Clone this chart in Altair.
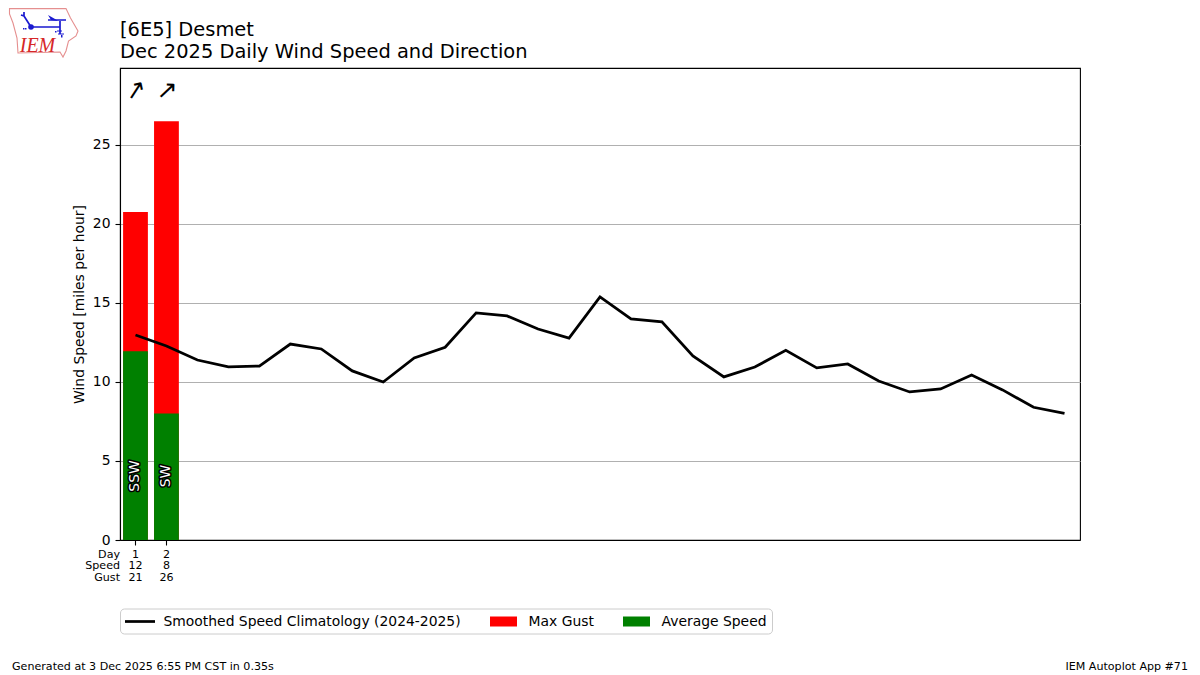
import base64
import altair as alt
import pandas as pd

FONT = "DejaVu Sans"

days = list(range(1, 32))
climatology = [12.97, 12.28, 11.39, 10.95, 11.01, 12.40, 12.09, 10.70, 10.00, 11.52, 12.20,
               14.37, 14.18, 13.35, 12.78, 15.38, 13.99, 13.80, 11.65, 10.32, 10.95, 12.00,
               10.89, 11.14, 10.06, 9.37, 9.56, 10.44, 9.50, 8.40, 8.02]
obs_days = [1, 2]
avg_speed = [11.95, 8.0]
max_gust = [20.75, 26.5]
dir_labels = ["SSW", "SW"]
arrow_angles = [33, 47]
speed_labels = ["12", "8"]
gust_labels = ["21", "26"]
row_names = ["Day", "Speed", "Gust"]
series_names = ["Smoothed Speed Climatology (2024-2025)", "Max Gust", "Average Speed"]
series_colors = ["black", "red", "green"]
series_shapes = ["M-1,-0.17H2.75V0.17H-1Z", "M-1,-0.625H2.375V0.625H-1Z", "M-1,-0.625H2.375V0.625H-1Z"]
title_lines = ["[6E5] Desmet", "Dec 2025 Daily Wind Speed and Direction"]
footer_left = "Generated at 3 Dec 2025 6:55 PM CST in 0.35s"
footer_right = "IEM Autoplot App #71"
logo_text = "IEM"

logo_svg = """<svg xmlns='http://www.w3.org/2000/svg' viewBox='0 0 90 60' width='90' height='60'>
<path d='M9.5,8.6 L66,8.6 L70.5,18 L78,31 L76,36 L68.5,41 L66,51 L63,57 L60,52 L18,53 L17,38 L13,23 L9.5,14 Z' fill='white' stroke='#e58f8f' stroke-width='1.1'/>
<g stroke='#1a1ad0' fill='none' stroke-width='1.7'>
<path d='M31,27 H60 M60,21 V34 M31,27 L24,16 L21,15 M24,16 L24,12 M48,20 H66'/>
<path d='M57,31 H62 M58,34 H64' stroke-width='1'/>
</g>
<path d='M48,15 L55,19 L58,21 L51,20 Z' fill='#1a1ad0'/>
<circle cx='31' cy='27' r='2.8' fill='#1a1ad0'/>
<path d='M23,28 h1.5 v1.5 h-1.5z M25,28 h1.5 v1.5 h-1.5z M55,31 h1.5 v1.5 h-1.5z M61,35 h1.5 v2.5 h-1.5z' fill='#1a1ad0'/>
</svg>"""
logo_uri = "data:image/svg+xml;base64," + base64.b64encode(logo_svg.encode()).decode()

clim_df = pd.DataFrame({"day": days, "speed": climatology})
obs_df = pd.DataFrame({
    "day": obs_days, "avg": avg_speed, "gust": max_gust, "dir": dir_labels,
    "angle": arrow_angles, "spd": speed_labels, "gst": gust_labels,
    "dirpos": [4.05, 4.05], "arrowpos": [28.4, 28.4],
})
legend_df = pd.DataFrame({"series": series_names, "day": [None] * 3, "speed": [None] * 3})

x_scale = alt.Scale(domain=[0.5, 31.5], nice=False, zero=False, padding=0)
y_scale = alt.Scale(domain=[0, 29.87], nice=False)
X = alt.X("day:Q", scale=x_scale,
          axis=alt.Axis(values=obs_days, labels=False, title=None, grid=False, zindex=1,
                        domainColor="black", domainWidth=1.1, tickColor="black", tickWidth=1.1, tickSize=5))
Y_AXIS = alt.Axis(values=[0, 5, 10, 15, 20, 25], title="Wind Speed [miles per hour]", grid=True,
                  gridColor="#b0b0b0", gridWidth=1.1, domainColor="black", domainWidth=1.1,
                  tickColor="black", tickWidth=1.1, tickSize=5, labelFont=FONT, labelFontSize=13.9,
                  labelColor="black", labelPadding=5, titleFont=FONT, titleFontSize=13.9,
                  titleFontWeight="normal", titleColor="black", titlePadding=6)

base_obs = alt.Chart(obs_df)
gust = base_obs.mark_bar(width=24.8, color=series_colors[1]).encode(
    x=X, y=alt.Y("gust:Q", scale=y_scale, axis=Y_AXIS, stack=None))
avg = base_obs.mark_bar(width=24.8, color=series_colors[2]).encode(
    x=alt.X("day:Q", scale=x_scale), y=alt.Y("avg:Q", scale=y_scale, stack=None))
line = alt.Chart(clim_df).mark_line(color=series_colors[0], strokeWidth=2.78).encode(
    x=alt.X("day:Q", scale=x_scale), y=alt.Y("speed:Q", scale=y_scale))
legend_layer = alt.Chart(legend_df).mark_point(filled=True, opacity=1).encode(
    x=alt.X("day:Q", scale=x_scale), y=alt.Y("speed:Q", scale=y_scale),
    color=alt.Color("series:N", scale=alt.Scale(domain=series_names, range=series_colors),
                    legend=alt.Legend(orient="none", legendX=0, legendY=540.5, direction="horizontal",
                                      columns=3, title=None, gridAlign="none", symbolSize=256,
                                      symbolStrokeWidth=0, labelFont=FONT, labelFontSize=13.9,
                                      labelColor="black", labelLimit=400, columnPadding=29,
                                      labelOffset=22.5, fillColor="white", strokeColor="#cccccc",
                                      cornerRadius=4, padding=5, symbolOpacity=1)),
    shape=alt.Shape("series:N", scale=alt.Scale(domain=series_names, range=series_shapes)),
)

dir_stroke = base_obs.mark_text(angle=270, font=FONT, fontSize=13.9, stroke="black", strokeWidth=3,
                                strokeJoin="round", fill="black", align="center", baseline="middle").encode(
    x=alt.X("day:Q", scale=x_scale), y=alt.Y("dirpos:Q", scale=y_scale), text="dir:N")
dir_fill = base_obs.mark_text(angle=270, font=FONT, fontSize=13.9, fill="white", align="center",
                              baseline="middle").encode(
    x=alt.X("day:Q", scale=x_scale), y=alt.Y("dirpos:Q", scale=y_scale), text="dir:N")
arrows = base_obs.mark_text(text="\u2191", font=FONT, fontSize=25, color="black", align="center",
                            baseline="middle").encode(
    x=alt.X("day:Q", scale=x_scale), y=alt.Y("arrowpos:Q", scale=y_scale),
    angle=alt.Angle("angle:Q", scale=None))


def table_row(field, ypix):
    return base_obs.mark_text(font=FONT, fontSize=11.1, color="black", align="center",
                              baseline="middle").encode(
        x=alt.X("day:Q", scale=x_scale), y=alt.value(ypix), text=field)


row_day = table_row("day:Q", 486.5)
row_speed = table_row("spd:N", 498)
row_gust = table_row("gst:N", 509.5)
row_heads = alt.Chart(pd.DataFrame({"name": row_names, "py": [486.5, 498, 509.5]})).mark_text(
    font=FONT, fontSize=11.1, color="black", align="right", baseline="middle").encode(
    x=alt.value(0), y=alt.Y("py:Q", scale=None), text="name:N")


def note(text, px, py, align, size=11.1, baseline="middle", **kw):
    return alt.Chart(pd.DataFrame({"t": [text]})).mark_text(
        font=kw.pop("font", FONT), fontSize=size, align=align, baseline=baseline, **kw).encode(
        x=alt.value(px), y=alt.value(py), text="t:N")


title_1 = note(title_lines[0], 0, -32, "left", size=19.45, baseline="alphabetic", color="black")
title_2 = note(title_lines[1], 0, -10, "left", size=19.45, baseline="alphabetic", color="black")
foot_l = note(footer_left, -108, 599, "left", color="black")
foot_r = note(footer_right, 1068, 599, "right", color="black")
logo = alt.Chart(pd.DataFrame({"u": [logo_uri]})).mark_image(width=90, height=60, align="left", baseline="top").encode(
    x=alt.value(-120), y=alt.value(-68), url="u:N")
logo_label = note(logo_text, -82.5, -22, "center", size=20, font="Liberation Serif", fontStyle="italic", color="#d62728")

chart = alt.layer(
    gust, avg, line, legend_layer, dir_stroke, dir_fill, arrows,
    row_day, row_speed, row_gust, row_heads, title_1, title_2, foot_l, foot_r, logo, logo_label,
).properties(
    width=960, height=472,
    autosize=alt.AutoSizeParams(type="none"),
    padding={"left": 112, "top": 60, "right": 112, "bottom": 135},
    background="white",
).configure_view(stroke="black", strokeWidth=1.1)

chart.save("out.html", embed_options={"renderer": "svg", "actions": False})
